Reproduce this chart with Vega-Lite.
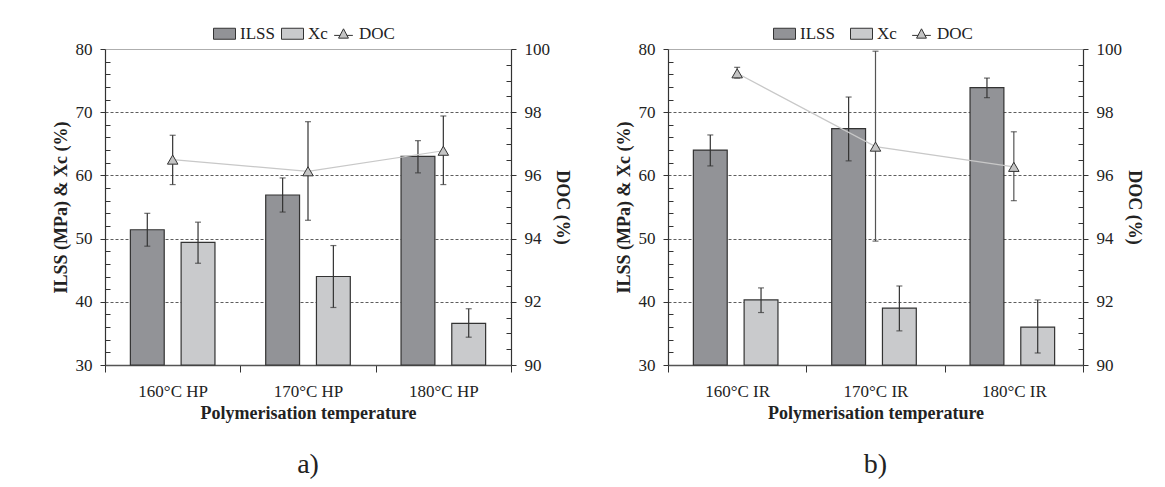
{
  "$schema": "https://vega.github.io/schema/vega-lite/v6.json",
  "padding": {"left": 52, "top": 22, "right": 5, "bottom": 5},
  "config": {
    "font": "Liberation Serif",
    "view": {"stroke": null},
    "axis": {"labelFont": "Liberation Serif", "labelFontSize": 17, "labelColor": "#222222", "titleFont": "Liberation Serif", "titleFontSize": 18, "titleFontWeight": "bold", "titleColor": "#222222", "domainColor": "#333333", "tickColor": "#333333", "tickWidth": 1},
    "legend": {
      "orient": "none", "direction": "horizontal", "title": null,
      "labelFont": "Liberation Serif", "labelFontSize": 17, "labelColor": "#222222",
      "symbolSize": 484, "symbolStrokeColor": "#333333", "symbolStrokeWidth": 1,
      "labelOffset": 4, "columnPadding": 4
    }
  },
  "spacing": 44,
  "resolve": {"scale": {"fill": "independent"}, "legend": {"fill": "independent"}},
  "hconcat": [
    {
      "width": 406, "height": 316,
      "title": {"text": "a)", "orient": "bottom", "anchor": "middle", "frame": "group", "fontSize": 28, "fontWeight": "normal", "font": "Liberation Serif", "color": "#222222", "offset": 29},
      "data": {"values": [
        {"temp": "160°C HP", "measure": "ILSS", "value": 51.4, "lo": 48.8, "hi": 54.0},
        {"temp": "170°C HP", "measure": "ILSS", "value": 56.9, "lo": 54.2, "hi": 59.6},
        {"temp": "180°C HP", "measure": "ILSS", "value": 63.0, "lo": 60.4, "hi": 65.5},
        {"temp": "160°C HP", "measure": "Xc", "value": 49.4, "lo": 46.1, "hi": 52.6},
        {"temp": "170°C HP", "measure": "Xc", "value": 44.0, "lo": 39.1, "hi": 48.9},
        {"temp": "180°C HP", "measure": "Xc", "value": 36.6, "lo": 34.4, "hi": 38.9},
        {"temp": "160°C HP", "measure": "DOC", "value": 96.5, "lo": 95.71, "hi": 97.27},
        {"temp": "170°C HP", "measure": "DOC", "value": 96.13, "lo": 94.58, "hi": 97.7},
        {"temp": "180°C HP", "measure": "DOC", "value": 96.78, "lo": 95.71, "hi": 97.88}
      ]},
      "encoding": {
        "x": {"field": "temp", "type": "nominal", "sort": null, "scale": {"paddingInner": 0, "paddingOuter": 0},
              "axis": {"title": "Polymerisation temperature", "tickBand": "extent", "tickSize": 7, "labelPadding": 11, "labelAngle": 0, "domainColor": "#555555", "domainWidth": 1.5, "titlePadding": 5}}
      },
      "layer": [
        {
          "transform": [{"filter": "datum.measure !== 'DOC'"}],
          "encoding": {
            "xOffset": {"field": "measure", "type": "nominal", "scale": {"domain": ["ILSS", "Xc"], "paddingInner": 0.333, "paddingOuter": 0.5}}
          },
          "layer": [
            {
              "mark": {"type": "bar", "stroke": "#333333", "strokeWidth": 1.2},
              "encoding": {
                "y": {"field": "value", "type": "quantitative", "scale": {"domain": [30, 80], "nice": false, "zero": false},
                      "axis": {"title": "ILSS (MPa) & Xc (%)", "values": [30,32,34,36,38,40,42,44,46,48,50,52,54,56,58,60,62,64,66,68,70,72,74,76,78,80], "tickCount": 40, "format": ".0f",
                               "labelExpr": "datum.value % 10 === 0 ? datum.label : ''", "labelOverlap": false, "labelBound": false,
                               "labelFontSize": {"condition": {"test": "datum.value % 10 === 0", "value": 17}, "value": 1},
                               "tickSize": {"condition": {"test": "datum.value % 10 === 0", "value": 5}, "value": -5},
                               "labelPadding": 8, "titlePadding": 5, "domainWidth": 1.2,
                               "grid": true, "gridWidth": 0.8,
                               "gridColor": {"condition": {"test": "datum.value === 80", "value": "#999999"}, "value": "#333333"},
                               "gridDash": {"condition": {"test": "datum.value === 80", "value": []}, "value": [3, 2]},
                               "gridOpacity": {"condition": {"test": "datum.value % 10 === 0 && datum.value > 30", "value": 1}, "value": 0}}},
                "y2": {"datum": 30},
                "fill": {"field": "measure", "type": "nominal", "scale": {"domain": ["ILSS", "Xc", "DOC"], "range": ["#929397", "#c9cacc", "#c4c4c4"]},
                         "legend": {"legendX": 108, "legendY": -27, "encode": {"symbols": {"update": {"shape": {"signal": "datum.value === 'DOC' ? 'M-0.85,0.15H-0.3M0.3,0.15H0.85M0,-0.45L0.45,0.4H-0.45Z' : 'M-1,-0.5H1V0.5H-1Z'"}}}}}}
              }
            },
            {
              "mark": {"type": "rule", "color": "#333333", "strokeWidth": 1.2},
              "encoding": {"y": {"field": "lo", "type": "quantitative"}, "y2": {"field": "hi"}}
            },
            {
              "mark": {"type": "tick", "color": "#333333", "size": 6, "thickness": 1.2},
              "encoding": {"y": {"field": "lo", "type": "quantitative"}}
            },
            {
              "mark": {"type": "tick", "color": "#333333", "size": 6, "thickness": 1.2},
              "encoding": {"y": {"field": "hi", "type": "quantitative"}}
            }
          ]
        },
        {
          "transform": [{"filter": "datum.measure === 'DOC'"}],
          "layer": [
            {
              "mark": {"type": "line", "color": "#c8c8c8", "strokeWidth": 1.2},
              "encoding": {
                "y": {"field": "value", "type": "quantitative", "scale": {"domain": [90, 100], "nice": false, "zero": false},
                      "axis": {"orient": "right", "title": "DOC (%)", "values": [90,90.5,91,91.5,92,92.5,93,93.5,94,94.5,95,95.5,96,96.5,97,97.5,98,98.5,99,99.5,100], "tickCount": 40, "format": ".0f",
                               "labelExpr": "datum.value % 2 === 0 ? datum.label : ''", "labelOverlap": false, "labelBound": false,
                               "labelFontSize": {"condition": {"test": "datum.value % 2 === 0", "value": 17}, "value": 1},
                               "tickSize": {"condition": {"test": "datum.value % 2 === 0", "value": 5}, "value": -5},
                               "labelPadding": 8, "titlePadding": 3, "domainWidth": 1.2, "grid": false}}
              }
            },
            {
              "mark": {"type": "rule", "color": "#333333", "strokeWidth": 1.2},
              "encoding": {"y": {"field": "lo", "type": "quantitative"}, "y2": {"field": "hi"}}
            },
            {
              "mark": {"type": "tick", "color": "#333333", "size": 6, "thickness": 1.2},
              "encoding": {"y": {"field": "lo", "type": "quantitative"}}
            },
            {
              "mark": {"type": "tick", "color": "#333333", "size": 6, "thickness": 1.2},
              "encoding": {"y": {"field": "hi", "type": "quantitative"}}
            },
            {
              "mark": {"type": "point", "shape": "triangle-up", "size": 110, "filled": true, "stroke": "#333333", "strokeWidth": 1, "opacity": 1},
              "encoding": {
                "y": {"field": "value", "type": "quantitative"},
                "fill": {"field": "measure", "type": "nominal"}
              }
            }
          ]
        }
      ],
      "resolve": {"scale": {"y": "independent"}}
    },
    {
      "width": 415, "height": 316,
      "title": {"text": "b)", "orient": "bottom", "anchor": "middle", "frame": "group", "fontSize": 28, "fontWeight": "normal", "font": "Liberation Serif", "color": "#222222", "offset": 29},
      "data": {"values": [
        {"temp": "160°C IR", "measure": "ILSS", "value": 64.0, "lo": 61.5, "hi": 66.4},
        {"temp": "170°C IR", "measure": "ILSS", "value": 67.4, "lo": 62.3, "hi": 72.4},
        {"temp": "180°C IR", "measure": "ILSS", "value": 73.9, "lo": 72.3, "hi": 75.4},
        {"temp": "160°C IR", "measure": "Xc", "value": 40.3, "lo": 38.3, "hi": 42.2},
        {"temp": "170°C IR", "measure": "Xc", "value": 39.0, "lo": 35.4, "hi": 42.5},
        {"temp": "180°C IR", "measure": "Xc", "value": 36.0, "lo": 31.9, "hi": 40.3},
        {"temp": "160°C IR", "measure": "DOC", "value": 99.23, "lo": 99.08, "hi": 99.42},
        {"temp": "170°C IR", "measure": "DOC", "value": 96.91, "lo": 93.92, "hi": 99.93},
        {"temp": "180°C IR", "measure": "DOC", "value": 96.27, "lo": 95.2, "hi": 97.38}
      ]},
      "encoding": {
        "x": {"field": "temp", "type": "nominal", "sort": null, "scale": {"paddingInner": 0, "paddingOuter": 0},
              "axis": {"title": "Polymerisation temperature", "tickBand": "extent", "tickSize": 7, "labelPadding": 11, "labelAngle": 0, "domainColor": "#555555", "domainWidth": 1.5, "titlePadding": 5}}
      },
      "layer": [
        {
          "transform": [{"filter": "datum.measure !== 'DOC'"}],
          "encoding": {
            "xOffset": {"field": "measure", "type": "nominal", "scale": {"domain": ["ILSS", "Xc"], "paddingInner": 0.333, "paddingOuter": 0.5}}
          },
          "layer": [
            {
              "mark": {"type": "bar", "stroke": "#333333", "strokeWidth": 1.2},
              "encoding": {
                "y": {"field": "value", "type": "quantitative", "scale": {"domain": [30, 80], "nice": false, "zero": false},
                      "axis": {"title": "ILSS (MPa) & Xc (%)", "values": [30,32,34,36,38,40,42,44,46,48,50,52,54,56,58,60,62,64,66,68,70,72,74,76,78,80], "tickCount": 40, "format": ".0f",
                               "labelExpr": "datum.value % 10 === 0 ? datum.label : ''", "labelOverlap": false, "labelBound": false,
                               "labelFontSize": {"condition": {"test": "datum.value % 10 === 0", "value": 17}, "value": 1},
                               "tickSize": {"condition": {"test": "datum.value % 10 === 0", "value": 5}, "value": -5},
                               "labelPadding": 8, "titlePadding": 5, "domainWidth": 1.2,
                               "grid": true, "gridWidth": 0.8,
                               "gridColor": {"condition": {"test": "datum.value === 80", "value": "#999999"}, "value": "#333333"},
                               "gridDash": {"condition": {"test": "datum.value === 80", "value": []}, "value": [3, 2]},
                               "gridOpacity": {"condition": {"test": "datum.value % 10 === 0 && datum.value > 30", "value": 1}, "value": 0}}},
                "y2": {"datum": 30},
                "fill": {"field": "measure", "type": "nominal", "scale": {"domain": ["ILSS", "Xc", "DOC"], "range": ["#929397", "#c9cacc", "#c4c4c4"]},
                         "legend": {"legendX": 105, "legendY": -27, "columnPadding": 13, "encode": {"symbols": {"update": {"shape": {"signal": "datum.value === 'DOC' ? 'M-0.85,0.15H-0.3M0.3,0.15H0.85M0,-0.45L0.45,0.4H-0.45Z' : 'M-1,-0.5H1V0.5H-1Z'"}}}}}}
              }
            },
            {
              "mark": {"type": "rule", "color": "#333333", "strokeWidth": 1.2},
              "encoding": {"y": {"field": "lo", "type": "quantitative"}, "y2": {"field": "hi"}}
            },
            {
              "mark": {"type": "tick", "color": "#333333", "size": 6, "thickness": 1.2},
              "encoding": {"y": {"field": "lo", "type": "quantitative"}}
            },
            {
              "mark": {"type": "tick", "color": "#333333", "size": 6, "thickness": 1.2},
              "encoding": {"y": {"field": "hi", "type": "quantitative"}}
            }
          ]
        },
        {
          "transform": [{"filter": "datum.measure === 'DOC'"}],
          "layer": [
            {
              "mark": {"type": "line", "color": "#c8c8c8", "strokeWidth": 1.2},
              "encoding": {
                "y": {"field": "value", "type": "quantitative", "scale": {"domain": [90, 100], "nice": false, "zero": false},
                      "axis": {"orient": "right", "title": "DOC (%)", "values": [90,90.5,91,91.5,92,92.5,93,93.5,94,94.5,95,95.5,96,96.5,97,97.5,98,98.5,99,99.5,100], "tickCount": 40, "format": ".0f",
                               "labelExpr": "datum.value % 2 === 0 ? datum.label : ''", "labelOverlap": false, "labelBound": false,
                               "labelFontSize": {"condition": {"test": "datum.value % 2 === 0", "value": 17}, "value": 1},
                               "tickSize": {"condition": {"test": "datum.value % 2 === 0", "value": 5}, "value": -5},
                               "labelPadding": 8, "titlePadding": 3, "domainWidth": 1.2, "grid": false}}
              }
            },
            {
              "mark": {"type": "rule", "color": "#555555", "strokeWidth": 1.2},
              "encoding": {"y": {"field": "lo", "type": "quantitative"}, "y2": {"field": "hi"}}
            },
            {
              "mark": {"type": "tick", "color": "#333333", "size": 6, "thickness": 1.2},
              "encoding": {"y": {"field": "lo", "type": "quantitative"}}
            },
            {
              "mark": {"type": "tick", "color": "#333333", "size": 6, "thickness": 1.2},
              "encoding": {"y": {"field": "hi", "type": "quantitative"}}
            },
            {
              "mark": {"type": "point", "shape": "triangle-up", "size": 110, "filled": true, "stroke": "#333333", "strokeWidth": 1, "opacity": 1},
              "encoding": {
                "y": {"field": "value", "type": "quantitative"},
                "fill": {"field": "measure", "type": "nominal"}
              }
            }
          ]
        }
      ],
      "resolve": {"scale": {"y": "independent"}}
    }
  ]
}
